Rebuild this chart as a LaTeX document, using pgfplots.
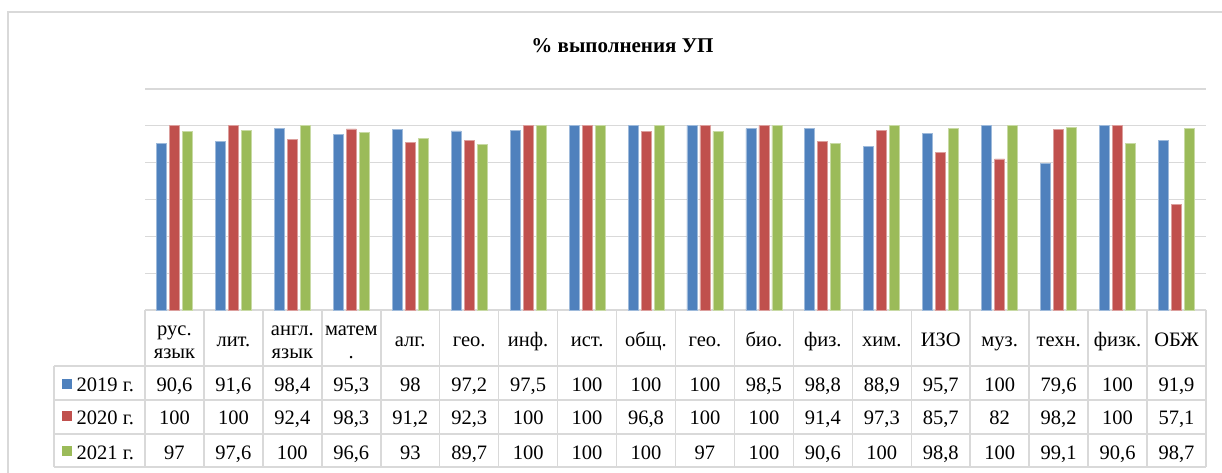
\documentclass[border=0pt]{standalone}
\usepackage{fontspec}
\setmainfont{Liberation Serif}
\usepackage{pgfplots}
\usepackage{pgfplotstable}
\pgfplotsset{compat=1.18}
\definecolor{cA}{HTML}{4F81BD}
\definecolor{cB}{HTML}{C0504D}
\definecolor{cC}{HTML}{9BBB59}
\definecolor{gridc}{HTML}{D9D9D9}
\pgfplotstableread{
i a b c
0 90.6 100 97
1 91.6 100 97.6
2 98.4 92.4 100
3 95.3 98.3 96.6
4 98 91.2 93
5 97.2 92.3 89.7
6 97.5 100 100
7 100 100 100
8 100 96.8 100
9 100 100 97
10 98.5 100 100
11 98.8 91.4 90.6
12 88.9 97.3 100
13 95.7 85.7 98.8
14 100 82 100
15 79.6 98.2 99.1
16 100 100 90.6
17 91.9 57.1 98.7
}\data
\pgfkeys{/pgf/number format/.cd, use comma, assume math mode=true, 1000 sep={}}
\begin{document}
\begin{tikzpicture}[x=1pt,y=1pt,font=\fontsize{20.5}{24}\selectfont]
\path[use as bounding box] (0,0) rectangle (1222,472);
% chart frame
\draw[gridc, line width=1.5pt] (8,-5) -- (8,460) -- (1230,460);
% title
\node[anchor=base, font=\fontsize{21}{25}\selectfont\bfseries] at (622.5,419.7) {\% выполнения УП};
\begin{axis}[
  at={(145pt,162pt)}, anchor=south west,
  scale only axis, width=1061pt, height=221pt,
  xmin=-0.5, xmax=17.5, ymin=0, ymax=120,
  ytick={0,20,...,120}, yticklabels={}, xtick=\empty,
  ymajorgrids, grid style={gridc, line width=1.3pt},
  axis line style={draw=none}, major tick length=0pt,
  ybar=3pt, bar width=10pt,
  clip=false,
]
\addplot[fill=cA, draw=cA!55!white, line width=0.8pt] table[x=i,y=a]{\data};
\addplot[fill=cB, draw=cB!55!white, line width=0.8pt] table[x=i,y=b]{\data};
\addplot[fill=cC, draw=cC!55!white, line width=0.8pt] table[x=i,y=c]{\data};
\end{axis}
% data table grid
\begin{scope}[gridc, line width=1.5pt]
\foreach \k in {0,...,18} {
  \draw ({145+58.944*\k},162) -- ({145+58.944*\k},5);
}
\draw (54,106) -- (54,5);
\foreach \yy in {106,72,38,5} { \draw (54,\yy) -- (1206,\yy); }
\end{scope}
% header labels
\foreach \i/\t in {1/лит.,4/алг.,5/гео.,6/инф.,7/ист.,8/общ.,9/гео.,10/био.,11/физ.,12/хим.,13/ИЗО,14/муз.,15/техн.,16/физк.,17/ОБЖ} {
  \node[anchor=base, inner sep=0pt] at ({145+58.944*(\i+0.5)},125.3) {\t};
}
\foreach \i/\t/\u in {0/рус./язык,2/англ./язык,3/матем/.} {
  \node[anchor=base, inner sep=0pt] at ({145+58.944*(\i+0.5)},137) {\t};
  \node[anchor=base, inner sep=0pt] at ({145+58.944*(\i+0.5)},114) {\u};
}
% legend column
\fill[cA] (61.7,83) rectangle (72.2,93);
\fill[cB] (61.7,50.7) rectangle (72.2,60.7);
\fill[cC] (61.7,15.7) rectangle (72.2,25.7);
\node[anchor=base west, inner sep=0pt] at (76.5,80.3) {2019 г.};
\node[anchor=base west, inner sep=0pt] at (76.5,48) {2020 г.};
\node[anchor=base west, inner sep=0pt] at (76.5,13) {2021 г.};
% values
\foreach \i in {0,...,17} {
  \pgfplotstablegetelem{\i}{a}\of\data \let\va\pgfplotsretval
  \pgfplotstablegetelem{\i}{b}\of\data \let\vb\pgfplotsretval
  \pgfplotstablegetelem{\i}{c}\of\data \let\vc\pgfplotsretval
  \node[anchor=base, inner sep=0pt] at ({145+58.944*(\i+0.5)},80.3) {\pgfmathprintnumber{\va}};
  \node[anchor=base, inner sep=0pt] at ({145+58.944*(\i+0.5)},48) {\pgfmathprintnumber{\vb}};
  \node[anchor=base, inner sep=0pt] at ({145+58.944*(\i+0.5)},13) {\pgfmathprintnumber{\vc}};
}
\end{tikzpicture}
\end{document}
